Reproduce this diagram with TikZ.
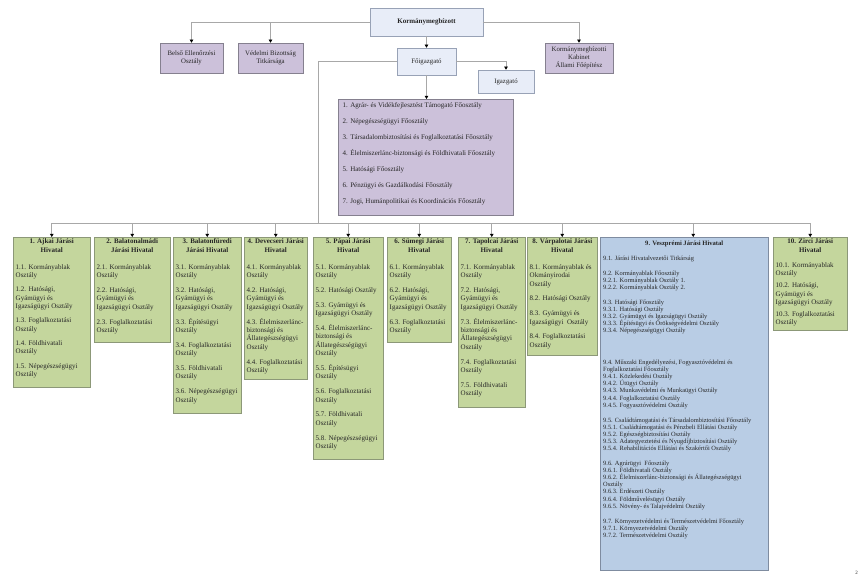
\documentclass[tikz,border=0pt]{standalone}
\usepackage{fontspec}
\setmainfont{Liberation Serif}
\usetikzlibrary{arrows.meta,calc}
\definecolor{kbfill}{HTML}{E8EDF8}
\definecolor{kbdraw}{HTML}{98A2B6}
\definecolor{pufill}{HTML}{CCC1DA}
\definecolor{pudraw}{HTML}{85808F}
\definecolor{grfill}{HTML}{C4D69D}
\definecolor{grdraw}{HTML}{8C9878}
\definecolor{blfill}{HTML}{B9CDE5}
\definecolor{bldraw}{HTML}{7F8CA0}
\definecolor{lncol}{HTML}{A8A8A8}
\definecolor{txt}{HTML}{262626}
\tikzset{
  topbox/.style={draw=kbdraw, fill=kbfill, line width=0.5pt, inner sep=0pt, align=center, text=txt, font=\fontsize{6.8}{7.8}\selectfont},
  pubox/.style={draw=pudraw, fill=pufill, line width=0.5pt, inner sep=0pt, align=center, text=txt, font=\fontsize{6.8}{7.8}\selectfont},
  gbox/.style={draw=grdraw, fill=grfill, line width=0.5pt, inner sep=0pt, anchor=north west},
  bbox/.style={draw=bldraw, fill=blfill, line width=0.5pt, inner sep=0pt, anchor=north west},
  gtitle/.style={inner sep=0pt, anchor=north, align=center, text=txt, font=\bfseries\fontsize{7}{8.4}\selectfont},
  gbody/.style={inner sep=0pt, anchor=north west, align=left, text=txt, font=\fontsize{7}{8.4}\selectfont},
  conn/.style={draw=lncol, line width=0.6pt},
  arr/.style={conn, -{Triangle[width=3.6pt,length=3.2pt,color=black]}}
}
\newcommand{\gp}{\\[6.4pt]}
\newcommand{\gq}{\\[3.6pt]}
\newcommand{\greenbox}[6]{%
  \node[gbox, minimum width={(#3-#2)*1pt}, minimum height={(#4-237)*1pt}] (b#1) at (#2,237) {};
  \node[gtitle] (t#1) at ($(b#1.north)+(0,1.6)$) {#5};
  \node[gbody] (c#1) at ($(b#1.north west)+(2.5,27.2)$) {#6};
}
\begin{document}
\begin{tikzpicture}[x=1pt,y=-1pt]
\fill[white] (0,0) rectangle (859,578);
\useasboundingbox (0,0) rectangle (859,578);

% top level
\node[topbox, font=\bfseries\fontsize{7}{8}\selectfont, minimum width=113pt, minimum height=28pt] (K) at (426.5,22) {Kormánymegbízott};
\node[pubox, minimum width=63pt, minimum height=30pt] (belso) at (191.5,58) {Belső Ellenőrzési\\Osztály};
\node[pubox, minimum width=65pt, minimum height=30pt] (vedelmi) at (270.5,58) {Védelmi Bizottság\\Titkársága};
\node[pubox, minimum width=68pt, minimum height=30pt] (kabinet) at (579,58) {Kormánymegbízotti\\Kabinet\\Állami Főépítész};
\node[topbox, minimum width=59pt, minimum height=27pt] (foig) at (426.5,61.5) {Főigazgató};
\node[topbox, minimum width=56pt, minimum height=23pt] (igaz) at (506,81.5) {Igazgató};

% main departments
\node[pubox, anchor=north west, minimum width=175pt, minimum height=116pt] (fo) at (338,99) {};
\node[inner sep=0pt, anchor=north west, align=left, text=txt, font=\fontsize{7}{16}\selectfont] (fotxt) at ($(fo.north west)+(4.5,3.2)$) {%
1. Agrár- és Vidékfejlesztést Támogató Főosztály\\
2. Népegészségügyi Főosztály\\
3. Társadalombiztosítási és Foglalkoztatási Főosztály\\
4. Élelmiszerlánc-biztonsági és Földhivatali Főosztály\\
5. Hatósági Főosztály\\
6. Pénzügyi és Gazdálkodási Főosztály\\
7. Jogi, Humánpolitikai és Koordinációs Főosztály};

% district offices
\greenbox{1}{13}{90}{387}{1. Ajkai Járási\\Hivatal}{1.1. Kormányablak\\Osztály\\[5.8pt]1.2. Hatósági,\\Gyámügyi és\\Igazságügyi Osztály\\[5.8pt]1.3. Foglalkoztatási\\Osztály\\[5.8pt]1.4. Földhivatali\\Osztály\\[5.8pt]1.5. Népegészségügyi\\Osztály}
\greenbox{2}{94}{170}{342}{2. Balatonalmádi\\Járási Hivatal}{2.1. Kormányablak\\Osztály\gp 2.2. Hatósági,\\Gyámügyi és\\Igazságügyi Osztály\gp 2.3. Foglalkoztatási\\Osztály}
\greenbox{3}{173}{241}{413}{3. Balatonfüredi\\Járási Hivatal}{3.1. Kormányablak\\Osztály\gp 3.2. Hatósági,\\Gyámügyi és\\Igazságügyi Osztály\gp 3.3. Építésügyi\\Osztály\gp 3.4. Foglalkoztatási\\Osztály\gp 3.5. Földhivatali\\Osztály\gp 3.6. Népegészségügyi\\Osztály}
\greenbox{4}{244}{307}{379}{4. Devecseri Járási\\Hivatal}{4.1. Kormányablak\\Osztály\gp 4.2. Hatósági,\\Gyámügyi és\\Igazságügyi Osztály\gp 4.3. Élelmiszerlánc-\\biztonsági és\\Állategészségügyi\\Osztály\gp 4.4. Foglalkoztatási\\Osztály}
\greenbox{5}{313}{383}{459}{5. Pápai Járási\\Hivatal}{5.1. Kormányablak\\Osztály\gp 5.2. Hatósági Osztály\gp 5.3. Gyámügyi és\\Igazságügyi Osztály\gp 5.4. Élelmiszerlánc-\\biztonsági és\\Állategészségügyi\\Osztály\gp 5.5. Építésügyi\\Osztály\gp 5.6. Foglalkoztatási\\Osztály\gp 5.7. Földhivatali\\Osztály\gp 5.8. Népegészségügyi\\Osztály}
\greenbox{6}{387}{451}{342}{6. Sümegi Járási\\Hivatal}{6.1. Kormányablak\\Osztály\gp 6.2. Hatósági,\\Gyámügyi és\\Igazságügyi Osztály\gp 6.3. Foglalkoztatási\\Osztály}
\greenbox{7}{458}{525}{407}{7. Tapolcai Járási\\Hivatal}{7.1. Kormányablak\\Osztály\gp 7.2. Hatósági,\\Gyámügyi és\\Igazságügyi Osztály\gp 7.3. Élelmiszerlánc-\\biztonsági és\\Állategészségügyi\\Osztály\gp 7.4. Foglalkoztatási\\Osztály\gp 7.5. Földhivatali\\Osztály}
\greenbox{8}{527}{597}{355}{8. Várpalotai Járási\\Hivatal}{8.1. Kormányablak és\\Okmányirodai\\Osztály\gp 8.2. Hatósági Osztály\gp 8.3. Gyámügyi és\\Igazságügyi \ Osztály\gp 8.4. Foglalkoztatási\\Osztály}

% Zirc (more compact)
\node[gbox, minimum width=74pt, minimum height=93pt] (b10) at (773,237) {};
\node[gtitle] (t10) at ($(b10.north)+(0,1.6)$) {10. Zirci Járási\\Hivatal};
\node[gbody] (c10) at ($(b10.north west)+(2.5,25.2)$) {10.1. Kormányablak\\Osztály\gq 10.2. Hatósági,\\Gyámügyi és\\Igazságügyi Osztály\gq 10.3. Foglalkoztatási\\Osztály};

% Veszprém
\node[bbox, minimum width=168pt, minimum height=333pt] (b9) at (600,237) {};
\node[gtitle, font=\bfseries\fontsize{6.6}{7.6}\selectfont] (t9) at ($(b9.north)+(0,3.5)$) {9. Veszprémi Járási Hivatal};
\node[gbody, font=\fontsize{6.4}{7.1}\selectfont] (c9) at ($(b9.north west)+(3,18.6)$) {%
9.1. Járási Hivatalvezetői Titkárság\\[7.9pt]
9.2. Kormányablak Főosztály\\
9.2.1. Kormányablak Osztály 1.\\
9.2.2. Kormányablak Osztály 2.\\[7.9pt]
9.3. Hatósági Főosztály\\
9.3.1. Hatósági Osztály\\
9.3.2. Gyámügyi és Igazságügyi Osztály\\
9.3.3. Építésügyi és Örökségvédelmi Osztály\\
9.3.4. Népegészségügyi Osztály\\[24.6pt]
9.4. Műszaki Engedélyezési, Fogyasztóvédelmi és\\
Foglalkoztatási Főosztály\\
9.4.1. Közlekedési Osztály\\
9.4.2. Útügyi Osztály\\
9.4.3. Munkavédelmi és Munkaügyi Osztály\\
9.4.4. Foglalkoztatási Osztály\\
9.4.5. Fogyasztóvédelmi Osztály\\[7.9pt]
9.5. Családtámogatási és Társadalombiztosítási Főosztály\\
9.5.1. Családtámogatási és Pénzbeli Ellátási Osztály\\
9.5.2. Egészségbiztosítási Osztály\\
9.5.3. Adategyeztetési és Nyugdíjbiztosítási Osztály\\
9.5.4. Rehabilitációs Ellátási és Szakértői Osztály\\[7.9pt]
9.6. Agrárügyi \ Főosztály\\
9.6.1. Földhivatali Osztály\\
9.6.2. Élelmiszerlánc-biztonsági és Állategészségügyi\\
Osztály\\
9.6.3. Erdészeti Osztály\\
9.6.4. Földművelésügyi Osztály\\
9.6.5. Növény- és Talajvédelmi Osztály\\[7.9pt]
9.7. Környezetvédelmi és Természetvédelmi Főosztály\\
9.7.1. Környezetvédelmi Osztály\\
9.7.2. Természetvédelmi Osztály};

% connectors top
\draw[arr] (K.west) -| (belso.north);
\draw[arr] (K.west) -| (vedelmi.north);
\draw[arr] (K.east) -| (kabinet.north);
\draw[arr] (K.south) -- (foig.north);
\draw[arr] (foig.east) -| (igaz.north);
\draw[arr] (foig.south) -- (foig.south |- fo.north);

% bus
\coordinate (busJ) at (318,223);
\coordinate (busL) at (b1.north |- busJ);
\coordinate (busR) at (b10.north |- busJ);
\draw[conn] (foig.west) -| (busJ);
\draw[conn] (busL) -- (busR);
\foreach \i in {1,2,3,4,5,6,7,8,10} {
  \draw[arr] (b\i.north |- busJ) -- (b\i.north);
}
\coordinate (b9top) at ($(b9.north)+(9,0)$);
\draw[arr] (b9top |- busJ) -- (b9top);

\node[inner sep=0pt, text=txt, font=\fontsize{5}{6}\selectfont] (pg) at (856.5,573) {2};
\end{tikzpicture}
\end{document}
